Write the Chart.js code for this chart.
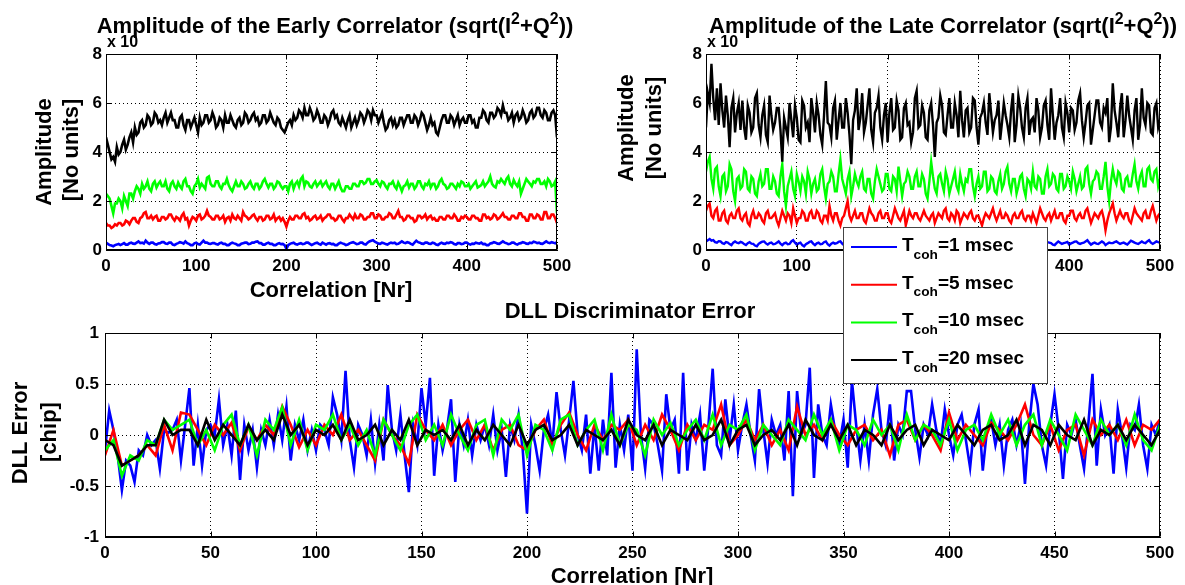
<!DOCTYPE html>
<html lang="en">
<head>
<meta charset="UTF-8" />
<title>Correlator amplitude and DLL error</title>
<script src="https://cdn.jsdelivr.net/npm/chart.js@4.4.1/dist/chart.umd.min.js"></script>
<style>
  html, body { margin: 0; padding: 0; background: #fff; }
  #wrap { position: relative; width: 1185px; height: 585px; overflow: hidden; }
  canvas { position: absolute; left: 0; top: 0; }
</style>
</head>
<body>
<div id="wrap">
  <canvas id="early" width="1185" height="585"></canvas>
  <canvas id="late" width="1185" height="585"></canvas>
  <canvas id="dll" width="1185" height="585"></canvas>
</div>
<script>
// T_coh values (msec) and MATLAB colours
const tcoh = ["1", "5", "10", "20"];
const colors = ["#0000ff", "#ff0000", "#00ff00", "#000000"];

// amplitude plots: one sample every 2 correlations, values in units of 1e4
const ampX = Array.from({ length: 251 }, (_, i) => i * 2);

const earlyBlue = [
  0.3, 0.25, 0.2, 0.18, 0.15, 0.2, 0.22, 0.25, 0.2, 0.24, 0.28, 0.22, 0.22, 0.28, 0.3, 0.26, 0.25, 0.3, 0.35, 0.28,
  0.3, 0.26, 0.38, 0.3, 0.25, 0.3, 0.3, 0.24, 0.22, 0.27, 0.28, 0.32, 0.32, 0.26, 0.25, 0.3, 0.3, 0.22, 0.2, 0.25,
  0.28, 0.32, 0.3, 0.26, 0.35, 0.28, 0.25, 0.2, 0.2, 0.27, 0.3, 0.24, 0.22, 0.3, 0.38, 0.3, 0.3, 0.26, 0.25, 0.28,
  0.28, 0.24, 0.22, 0.28, 0.3, 0.25, 0.25, 0.2, 0.2, 0.26, 0.3, 0.27, 0.25, 0.2, 0.2, 0.26, 0.28, 0.3, 0.3, 0.24,
  0.25, 0.3, 0.3, 0.34, 0.35, 0.28, 0.28, 0.22, 0.22, 0.27, 0.3, 0.25, 0.25, 0.2, 0.2, 0.25, 0.28, 0.24, 0.25, 0.2,
  0.05, 0.2, 0.25, 0.28, 0.3, 0.24, 0.22, 0.26, 0.28, 0.24, 0.25, 0.3, 0.3, 0.25, 0.2, 0.24, 0.28, 0.3, 0.25, 0.22,
  0.3, 0.26, 0.22, 0.27, 0.28, 0.24, 0.25, 0.2, 0.2, 0.26, 0.3, 0.27, 0.25, 0.2, 0.22, 0.27, 0.3, 0.32, 0.28, 0.24,
  0.25, 0.3, 0.3, 0.24, 0.22, 0.3, 0.35, 0.38, 0.4, 0.34, 0.3, 0.26, 0.25, 0.3, 0.28, 0.24, 0.22, 0.27, 0.3, 0.28,
  0.3, 0.24, 0.25, 0.3, 0.35, 0.3, 0.28, 0.32, 0.3, 0.25, 0.22, 0.3, 0.38, 0.32, 0.3, 0.26, 0.25, 0.3, 0.3, 0.26,
  0.25, 0.3, 0.28, 0.22, 0.2, 0.26, 0.3, 0.26, 0.25, 0.3, 0.28, 0.32, 0.3, 0.24, 0.22, 0.28, 0.28, 0.24, 0.25, 0.3,
  0.3, 0.25, 0.22, 0.26, 0.25, 0.3, 0.28, 0.26, 0.3, 0.24, 0.25, 0.2, 0.2, 0.27, 0.28, 0.32, 0.3, 0.26, 0.25, 0.3,
  0.35, 0.3, 0.28, 0.24, 0.25, 0.3, 0.3, 0.25, 0.22, 0.27, 0.28, 0.32, 0.3, 0.26, 0.25, 0.3, 0.28, 0.34, 0.32, 0.28,
  0.3, 0.26, 0.25, 0.3, 0.35, 0.3, 0.28, 0.32, 0.3, 0.27, 0.32
];
const earlyRed = [
  1.1, 1.0, 1.0, 0.9, 0.95, 1.05, 1.0, 1.1, 1.1, 1.0, 1.05, 1.2, 1.15, 1.05, 1.2, 1.3, 1.3, 1.15, 1.1, 1.3,
  1.35, 1.5, 1.55, 1.3, 1.3, 1.4, 1.25, 1.35, 1.4, 1.2, 1.2, 1.35, 1.35, 1.25, 1.3, 1.45, 1.45, 1.3, 1.2, 1.35,
  1.3, 1.2, 1.4, 1.5, 1.25, 1.3, 1.0, 1.2, 1.35, 1.3, 1.2, 1.4, 1.45, 1.25, 1.3, 1.4, 1.6, 1.4, 1.35, 1.25,
  1.25, 1.4, 1.4, 1.25, 1.3, 1.4, 1.15, 1.3, 1.35, 1.2, 1.45, 1.3, 1.25, 1.4, 1.3, 1.2, 1.55, 1.4, 1.35, 1.25,
  1.3, 1.4, 1.45, 1.3, 1.2, 1.35, 1.35, 1.2, 1.25, 1.4, 1.4, 1.25, 1.3, 1.45, 1.2, 1.3, 1.35, 1.2, 1.3, 1.15,
  0.95, 1.2, 1.35, 1.25, 1.25, 1.4, 1.4, 1.3, 1.3, 1.45, 1.5, 1.3, 1.35, 1.2, 1.25, 1.35, 1.4, 1.25, 1.3, 1.4,
  1.2, 1.3, 1.35, 1.45, 1.45, 1.3, 1.3, 1.2, 1.25, 1.4, 1.4, 1.25, 1.15, 1.3, 1.3, 1.45, 1.35, 1.25, 1.45, 1.3,
  1.3, 1.45, 1.4, 1.25, 1.25, 1.35, 1.35, 1.5, 1.5, 1.3, 1.3, 1.45, 1.4, 1.25, 1.25, 1.35, 1.35, 1.5, 1.45, 1.3,
  1.3, 1.45, 1.6, 1.35, 1.35, 1.2, 1.25, 1.4, 1.4, 1.3, 1.3, 1.15, 1.2, 1.4, 1.4, 1.3, 1.35, 1.45, 1.25, 1.35,
  1.4, 1.25, 1.3, 1.2, 1.2, 1.35, 1.35, 1.25, 1.25, 1.4, 1.4, 1.3, 1.3, 1.45, 1.35, 1.2, 1.2, 1.35, 1.3, 1.4,
  1.35, 1.25, 1.25, 1.4, 1.4, 1.3, 1.3, 1.2, 1.2, 1.45, 1.45, 1.3, 1.35, 1.25, 1.3, 1.45, 1.4, 1.25, 1.3, 1.4,
  1.5, 1.35, 1.35, 1.25, 1.25, 1.4, 1.4, 1.3, 1.3, 1.5, 1.5, 1.35, 1.35, 1.2, 1.2, 1.45, 1.45, 1.3, 1.3, 1.45,
  1.4, 1.25, 1.25, 1.55, 1.55, 1.3, 1.3, 1.45, 1.45, 1.3, 1.1
];
const earlyGreen = [
  2.3, 2.2, 2.1, 1.8, 1.5, 1.9, 1.9, 2.1, 2.0, 1.7, 2.2, 2.0, 1.8, 2.3, 2.3, 2.1, 2.4, 2.6, 2.5, 2.3,
  2.7, 2.5, 2.6, 2.8, 2.5, 2.4, 2.7, 2.8, 2.55, 2.7, 2.8, 2.6, 2.6, 2.8, 2.5, 2.4, 2.7, 2.8, 2.6, 2.5,
  2.75, 2.6, 2.5, 2.8, 2.9, 2.6, 2.6, 2.4, 2.3, 2.6, 2.7, 2.9, 2.55, 2.7, 2.6, 2.5, 2.95, 3.0, 2.7, 2.6,
  2.6, 2.8, 2.8, 2.6, 2.5, 2.7, 2.7, 2.9, 2.65, 2.5, 2.4, 2.6, 2.8, 2.6, 2.6, 2.8, 2.7, 2.5, 2.55, 2.7,
  2.8, 2.6, 2.5, 2.7, 2.7, 2.5, 2.6, 2.8, 2.9, 2.7, 2.55, 2.7, 2.7, 2.5, 2.6, 2.8, 2.75, 2.6, 2.5, 2.6,
  2.6, 2.4, 2.7, 2.8, 2.5, 2.7, 2.8, 2.6, 2.9, 3.0, 2.6, 2.8, 2.75, 2.6, 2.55, 2.7, 2.8, 2.6, 2.7, 2.8,
  2.6, 2.7, 2.8, 2.6, 2.5, 2.7, 2.7, 2.5, 2.65, 2.8, 2.55, 2.4, 2.4, 2.6, 2.6, 2.5, 2.5, 2.7, 2.7, 2.6,
  2.6, 2.8, 2.8, 2.7, 2.75, 2.9, 2.9, 2.7, 2.7, 2.8, 2.85, 2.7, 2.6, 2.8, 2.75, 2.6, 2.5, 2.7, 2.7, 2.8,
  2.6, 2.5, 2.75, 2.6, 2.4, 2.6, 2.65, 2.8, 2.55, 2.7, 2.7, 2.5, 2.6, 2.8, 2.8, 2.6, 2.5, 2.7, 2.65, 2.8,
  2.55, 2.7, 2.7, 2.5, 2.6, 2.8, 2.9, 2.7, 2.65, 2.5, 2.55, 2.7, 2.7, 2.6, 2.5, 2.7, 2.6, 2.8, 2.75, 2.6,
  2.6, 2.7, 2.5, 2.6, 2.7, 2.8, 2.55, 2.6, 2.65, 2.8, 2.6, 2.7, 2.8, 3.0, 2.7, 2.6, 2.55, 2.8, 2.75, 2.9,
  2.8, 2.7, 2.9, 3.0, 2.7, 2.6, 2.85, 2.7, 2.6, 2.8, 2.3, 2.5, 2.7, 2.9, 2.8, 2.7, 2.6, 2.8, 2.75, 2.9,
  2.9, 2.7, 2.7, 2.8, 2.6, 2.9, 2.8, 2.6, 2.65, 2.8, 1.5
];
const earlyBlack = [
  4.6, 4.3, 4.0, 3.7, 3.8, 3.6, 4.2, 3.9, 4.0, 4.3, 4.5, 4.1, 4.3, 4.6, 4.8, 4.4, 5.0, 4.7, 4.8, 5.2,
  5.3, 5.0, 5.1, 5.5, 5.4, 5.1, 5.2, 5.6, 5.5, 5.2, 5.3, 5.1, 5.4, 5.6, 5.2, 5.4, 5.6, 5.3, 5.3, 5.0,
  5.0, 5.4, 5.5, 5.1, 4.9, 5.3, 5.3, 5.0, 5.2, 5.4, 5.1, 4.8, 5.4, 5.1, 5.2, 5.5, 5.5, 5.2, 5.3, 5.6,
  5.4, 5.0, 5.1, 5.4, 5.3, 5.0, 5.5, 5.2, 5.2, 5.5, 5.3, 5.1, 5.0, 5.3, 5.4, 5.1, 5.2, 5.6, 5.5, 5.2,
  5.3, 5.5, 5.6, 5.3, 5.4, 5.1, 5.2, 5.5, 5.5, 5.2, 5.3, 5.6, 5.4, 5.2, 5.1, 5.4, 5.3, 5.0, 4.9, 4.8,
  5.0, 5.2, 5.3, 5.1, 5.5, 5.3, 5.4, 5.7, 5.6, 5.4, 5.8, 5.5, 5.5, 5.8, 5.6, 5.3, 5.4, 5.7, 5.5, 5.2,
  5.2, 5.5, 5.4, 5.1, 5.3, 5.6, 5.7, 5.4, 5.5, 5.2, 5.1, 5.4, 5.2, 5.0, 5.3, 5.5, 5.0, 5.2, 5.4, 5.1,
  5.3, 5.6, 5.5, 5.2, 5.4, 5.7, 5.6, 5.3, 5.7, 5.5, 5.5, 5.2, 5.4, 5.6, 5.2, 4.9, 5.0, 5.3, 5.4, 5.1,
  5.3, 5.0, 5.1, 5.4, 5.4, 5.1, 5.3, 5.5, 5.5, 5.2, 5.2, 5.5, 5.4, 5.1, 5.3, 5.6, 5.5, 5.2, 4.9, 5.1,
  5.4, 5.1, 5.2, 4.8, 4.7, 5.0, 5.3, 5.5, 5.5, 5.2, 5.2, 5.5, 5.4, 5.1, 5.3, 5.5, 5.1, 5.3, 5.4, 5.2,
  5.2, 5.5, 5.5, 5.2, 5.3, 5.0, 5.0, 5.4, 5.4, 5.7, 5.6, 5.3, 5.2, 5.6, 5.6, 5.4, 5.5, 5.8, 5.7, 5.5,
  5.9, 5.6, 5.6, 5.3, 5.4, 5.6, 5.2, 5.5, 5.6, 5.3, 5.4, 5.7, 5.5, 5.2, 5.3, 5.6, 5.7, 5.4, 5.5, 5.8,
  5.8, 5.5, 5.4, 5.7, 5.6, 5.3, 5.3, 5.6, 5.7, 5.5, 4.6
];

const lateBlue = [
  0.35, 0.4, 0.45, 0.38, 0.4, 0.32, 0.3, 0.36, 0.35, 0.28, 0.25, 0.32, 0.3, 0.24, 0.2, 0.3, 0.35, 0.3, 0.28, 0.33,
  0.3, 0.24, 0.2, 0.28, 0.32, 0.26, 0.25, 0.18, 0.15, 0.25, 0.3, 0.34, 0.35, 0.27, 0.22, 0.28, 0.3, 0.24, 0.25, 0.3,
  0.35, 0.26, 0.2, 0.27, 0.3, 0.24, 0.25, 0.35, 0.4, 0.3, 0.22, 0.27, 0.3, 0.2, 0.15, 0.24, 0.28, 0.33, 0.35, 0.26,
  0.2, 0.27, 0.3, 0.24, 0.25, 0.32, 0.35, 0.24, 0.18, 0.26, 0.3, 0.26, 0.28, 0.33, 0.35, 0.26, 0.2, 0.26, 0.3, 0.27,
  0.25, 0.32, 0.35, 0.3, 0.3, 0.23, 0.2, 0.27, 0.3, 0.26, 0.25, 0.35, 0.4, 0.3, 0.22, 0.27, 0.3, 0.26, 0.25, 0.3,
  0.3, 0.24, 0.2, 0.3, 0.35, 0.3, 0.28, 0.3, 0.3, 0.22, 0.18, 0.26, 0.32, 0.27, 0.25, 0.3, 0.3, 0.33, 0.35, 0.28,
  0.25, 0.3, 0.3, 0.24, 0.2, 0.3, 0.35, 0.3, 0.28, 0.3, 0.3, 0.24, 0.22, 0.3, 0.35, 0.28, 0.25, 0.3, 0.3, 0.24,
  0.2, 0.28, 0.32, 0.27, 0.25, 0.3, 0.3, 0.33, 0.35, 0.26, 0.2, 0.26, 0.3, 0.3, 0.28, 0.24, 0.22, 0.3, 0.35, 0.32,
  0.3, 0.26, 0.25, 0.32, 0.35, 0.26, 0.2, 0.27, 0.3, 0.3, 0.28, 0.32, 0.32, 0.26, 0.22, 0.27, 0.3, 0.26, 0.25, 0.3,
  0.35, 0.26, 0.2, 0.26, 0.3, 0.27, 0.25, 0.3, 0.32, 0.3, 0.28, 0.22, 0.2, 0.28, 0.35, 0.3, 0.25, 0.28, 0.3, 0.33,
  0.22, 0.27, 0.3, 0.34, 0.35, 0.28, 0.25, 0.28, 0.3, 0.35, 0.4, 0.3, 0.22, 0.27, 0.3, 0.26, 0.25, 0.3, 0.35, 0.3,
  0.2, 0.26, 0.3, 0.28, 0.28, 0.32, 0.35, 0.3, 0.25, 0.28, 0.3, 0.26, 0.22, 0.3, 0.38, 0.34, 0.3, 0.27, 0.25, 0.3,
  0.35, 0.3, 0.28, 0.35, 0.4, 0.3, 0.25, 0.3, 0.35, 0.32, 0.3
];
const lateRed = [
  1.6, 1.8, 1.9, 1.4, 1.3, 1.6, 1.7, 1.2, 1.2, 1.5, 1.6, 1.2, 1.1, 1.4, 1.5, 1.3, 1.3, 1.6, 1.7, 1.3,
  1.2, 1.4, 1.5, 1.1, 1.0, 1.4, 1.6, 1.3, 1.3, 1.5, 1.4, 1.2, 1.1, 1.5, 1.6, 1.3, 1.3, 1.4, 1.5, 1.2,
  1.0, 1.3, 1.6, 1.4, 1.2, 1.5, 1.4, 1.1, 1.7, 1.4, 1.1, 1.3, 1.3, 1.6, 1.5, 1.2, 1.2, 1.5, 1.6, 1.3,
  1.3, 1.6, 1.5, 1.2, 1.1, 1.4, 1.4, 1.2, 1.8, 1.4, 1.2, 1.5, 1.5, 1.2, 1.0, 1.3, 1.4, 1.7, 2.0, 1.4,
  1.2, 1.4, 1.6, 1.3, 1.3, 1.5, 1.5, 1.2, 1.1, 1.4, 1.7, 1.5, 1.4, 1.2, 1.2, 1.5, 1.6, 1.3, 1.3, 1.5,
  1.5, 1.2, 1.1, 1.4, 1.7, 1.5, 1.3, 1.2, 1.4, 1.6, 1.0, 1.3, 1.6, 1.4, 1.3, 1.5, 1.5, 1.3, 1.2, 1.4,
  1.6, 1.4, 1.3, 1.2, 1.4, 1.5, 1.1, 1.3, 1.5, 1.4, 1.3, 1.6, 1.7, 1.3, 1.2, 1.5, 1.4, 1.2, 1.6, 1.5,
  1.1, 1.3, 1.5, 1.4, 1.3, 1.5, 1.6, 1.3, 1.2, 1.4, 1.4, 1.2, 1.0, 1.3, 1.5, 1.4, 1.3, 1.5, 1.7, 1.4,
  1.2, 1.4, 1.6, 1.3, 1.3, 1.5, 1.4, 1.2, 1.1, 1.4, 1.5, 1.3, 1.3, 1.5, 1.6, 1.3, 1.2, 1.4, 1.4, 1.2,
  1.5, 1.3, 1.1, 1.4, 1.7, 1.5, 1.3, 1.2, 1.4, 1.5, 1.2, 1.4, 1.6, 1.3, 1.3, 1.5, 1.5, 1.2, 1.1, 1.4,
  1.4, 1.6, 1.6, 1.3, 1.2, 1.4, 1.5, 1.3, 1.3, 1.6, 1.7, 1.4, 1.1, 1.3, 1.5, 1.4, 1.3, 1.5, 1.6, 1.3,
  0.8, 1.2, 1.5, 1.7, 1.9, 1.5, 1.2, 1.4, 1.6, 1.4, 1.3, 1.5, 1.5, 1.2, 1.1, 1.4, 1.7, 1.5, 1.4, 1.3,
  1.2, 1.5, 1.6, 1.3, 1.3, 1.6, 1.8, 1.5, 1.2, 1.4, 1.5
];
const lateGreen = [
  3.2, 3.6, 3.8, 2.9, 2.5, 3.3, 3.4, 2.6, 2.2, 3.0, 3.1, 2.4, 2.6, 3.5, 3.3, 2.4, 2.0, 2.9, 3.0, 2.5,
  2.6, 3.3, 3.2, 2.5, 2.4, 3.0, 2.9, 2.3, 2.2, 2.8, 3.1, 2.6, 2.7, 3.3, 3.3, 2.5, 2.5, 3.0, 2.8, 2.3,
  2.2, 3.0, 3.5, 2.4, 1.8, 2.6, 2.9, 3.2, 2.5, 2.2, 3.1, 2.8, 2.4, 3.0, 2.8, 2.3, 3.2, 2.9, 2.3, 2.7,
  2.9, 2.4, 2.5, 3.1, 3.3, 2.6, 2.1, 2.7, 2.8, 3.2, 3.0, 2.4, 2.4, 3.1, 3.7, 2.9, 2.6, 2.3, 2.9, 3.2,
  2.2, 2.6, 3.1, 2.8, 2.6, 3.0, 3.2, 2.5, 2.4, 2.9, 2.9, 2.3, 2.1, 2.8, 3.3, 3.0, 2.7, 2.4, 2.5, 3.1,
  3.1, 2.5, 2.4, 3.0, 2.9, 2.4, 3.4, 2.8, 2.2, 2.7, 2.8, 3.2, 3.0, 2.5, 2.5, 3.0, 3.2, 2.6, 2.6, 3.1,
  2.9, 2.3, 2.1, 2.8, 3.6, 3.0, 2.5, 2.3, 3.0, 3.1, 2.7, 2.4, 3.2, 2.9, 2.3, 2.6, 2.9, 3.2, 2.6, 2.4,
  3.1, 2.7, 2.4, 2.9, 2.8, 3.3, 3.3, 2.6, 2.2, 2.7, 3.0, 2.5, 2.6, 3.2, 3.2, 2.4, 2.5, 3.0, 2.9, 2.4,
  2.3, 2.8, 3.1, 2.5, 2.7, 3.2, 3.4, 2.7, 2.4, 2.9, 2.9, 2.3, 2.6, 3.0, 3.1, 2.5, 2.2, 2.9, 2.8, 2.5,
  3.2, 2.6, 2.5, 3.0, 2.9, 2.3, 2.3, 3.0, 3.3, 2.6, 2.7, 3.1, 3.0, 2.5, 2.4, 3.1, 3.1, 2.5, 2.6, 3.0,
  2.8, 2.5, 3.2, 2.9, 2.4, 2.7, 3.0, 2.5, 2.6, 3.3, 3.4, 2.7, 2.3, 2.8, 2.9, 3.2, 3.1, 2.5, 2.5, 3.0,
  3.6, 2.6, 2.0, 2.8, 3.3, 2.9, 2.7, 3.2, 3.1, 2.5, 2.4, 2.9, 3.0, 2.6, 2.6, 3.1, 3.5, 2.8, 2.5, 3.0,
  3.2, 2.6, 2.6, 3.3, 3.4, 2.9, 2.8, 3.2, 3.3, 2.6, 2.9
];
const lateBlack = [
  5.0, 6.4, 6.0, 7.6, 6.2, 5.3, 6.6, 5.1, 6.8, 5.7, 5.0, 6.3, 5.5, 4.2, 5.8, 6.2, 4.8, 5.6, 6.0, 4.9,
  6.1, 5.0, 4.5, 5.9, 5.6, 4.8, 5.0, 6.2, 6.4, 5.1, 4.6, 5.5, 5.9, 4.7, 4.4, 6.3, 5.5, 4.9, 5.2, 5.8,
  5.8, 4.9, 3.6, 5.4, 5.0, 4.6, 6.0, 5.3, 4.6, 5.9, 5.4, 4.5, 4.4, 6.1, 5.9, 5.0, 5.2, 4.4, 6.2, 5.6,
  4.8, 6.0, 5.5, 4.7, 4.3, 5.5, 6.9, 5.2, 5.1, 4.6, 5.8, 6.1, 4.5, 5.3, 6.0, 5.0, 5.0, 6.2, 5.6, 4.7,
  3.5, 5.3, 5.7, 6.6, 4.9, 5.4, 6.4, 4.8, 5.2, 5.9, 6.6, 4.9, 4.4, 5.6, 5.8, 6.3, 5.0, 4.5, 5.5, 6.0,
  4.4, 5.6, 6.2, 4.9, 5.0, 6.1, 5.7, 4.5, 4.6, 5.8, 6.0, 5.1, 5.2, 4.4, 4.8, 6.2, 6.5, 5.0, 5.1, 5.9,
  5.6, 4.6, 4.5, 5.7, 6.0, 5.1, 3.8, 5.2, 5.4, 6.3, 5.9, 4.8, 4.7, 5.5, 6.2, 5.0, 5.0, 6.0, 5.5, 4.6,
  6.5, 5.3, 4.6, 5.7, 5.8, 4.8, 5.0, 6.2, 6.1, 5.0, 4.3, 5.4, 5.6, 6.0, 5.2, 4.7, 6.4, 5.6, 4.8, 5.3,
  5.5, 6.1, 4.5, 5.2, 6.0, 5.5, 5.1, 4.6, 5.7, 6.4, 4.4, 5.1, 6.3, 5.8, 5.0, 4.6, 5.8, 6.2, 4.7, 5.3,
  5.4, 4.8, 6.2, 5.7, 4.6, 5.0, 5.9, 6.1, 5.1, 4.5, 6.6, 5.5, 4.5, 5.2, 5.5, 6.2, 5.0, 4.6, 6.0, 5.6,
  4.8, 5.8, 5.7, 4.9, 5.2, 6.1, 6.4, 5.3, 4.6, 5.2, 5.9, 6.0, 4.3, 4.9, 5.5, 6.1, 6.1, 5.2, 5.0, 5.8,
  5.6, 6.2, 4.4, 5.0, 6.8, 5.7, 5.2, 4.6, 5.8, 6.4, 4.6, 5.3, 6.3, 5.5, 5.0, 4.5, 5.7, 6.2, 4.5, 5.1,
  6.6, 5.4, 5.1, 6.0, 5.9, 4.8, 4.7, 5.8, 6.0, 5.0, 5.3
];

// DLL error [chip]: blue every 2 correlations, the others every 4
const dllBlueX = Array.from({ length: 251 }, (_, i) => i * 2);
const dllX = Array.from({ length: 126 }, (_, i) => i * 4);

const dllBlue = [
  -0.15, 0.24, 0.05, -0.2, -0.54, -0.25, -0.3, -0.46, -0.15, -0.2,
  0.0, -0.1, -0.05, -0.33, 0.05, 0.02, 0.05, 0.15, -0.25, 0.1,
  0.46, -0.3, 0.1, -0.3, 0.05, 0.1, 0.0, 0.35, -0.1, 0.1,
  -0.2, 0.24, -0.44, 0.1, -0.15, 0.05, -0.32, 0.05, -0.1, 0.15,
  -0.1, 0.2, -0.05, 0.28, -0.25, 0.1, -0.05, 0.15, -0.15, 0.05,
  -0.15, 0.1, 0.05, -0.1, 0.37, 0.2, -0.05, 0.63, -0.05, -0.32,
  0.1, 0.0, -0.2, 0.15, -0.28, 0.1, -0.25, 0.49, 0.05, -0.15,
  0.2, -0.2, -0.56, 0.1, -0.1, 0.46, 0.1, 0.56, -0.4, 0.1,
  -0.15, 0.05, 0.35, -0.46, 0.1, -0.1, 0.15, -0.2, 0.1, -0.05,
  0.1, -0.1, 0.2, -0.15, 0.05, -0.41, 0.1, -0.05, 0.2, -0.15,
  -0.77, 0.1, -0.1, -0.35, 0.05, 0.2, -0.1, 0.42, 0.05, -0.2,
  0.15, 0.53, 0.0, -0.15, 0.2, -0.38, 0.1, -0.35, 0.15, -0.2,
  0.61, -0.32, 0.1, -0.15, 0.2, -0.35, 0.84, 0.0, -0.33, 0.15,
  0.1, -0.1, -0.35, 0.4, 0.05, 0.15, -0.38, 0.61, -0.35, 0.1,
  -0.05, 0.2, -0.35, 0.1, 0.65, -0.1, -0.2, 0.35, -0.05, 0.3,
  -0.15, 0.1, 0.3, 0.0, -0.25, 0.45, 0.05, -0.28, 0.15, 0.0,
  0.1, -0.25, 0.43, -0.6, 0.43, 0.0, 0.1, 0.66, -0.42, 0.3,
  0.0, -0.1, 0.3, 0.05, -0.1, 0.15, -0.32, 0.53, 0.1, -0.25,
  0.1, -0.25, 0.2, 0.45, 0.05, -0.1, 0.3, -0.25, 0.1, 0.0,
  0.43, 0.43, 0.05, -0.22, 0.1, 0.0, 0.3, 0.05, -0.1, 0.25,
  0.0, -0.2, 0.1, 0.2, -0.05, -0.32, 0.1, 0.25, -0.35, 0.05,
  0.15, -0.1, 0.1, -0.3, 0.05, 0.15, -0.1, 0.1, -0.48, 0.1,
  0.5, 0.3, -0.1, -0.3, 0.1, 0.4, 0.05, -0.43, 0.1, 0.0,
  0.15, -0.1, -0.33, 0.1, 0.6, -0.3, 0.25, 0.0, 0.1, -0.38,
  0.25, 0.0, -0.32, 0.1, 0.05, 0.3, -0.1, -0.33, 0.1, 0.0,
  0.15
];
const dllRed = [
  -0.2, 0.05, -0.3, -0.25, -0.2, -0.1, -0.2, 0.1, -0.15, 0.22,
  0.2, 0.05, -0.1, 0.1, 0.0, 0.12, -0.15, 0.08, -0.05, 0.1,
  0.0, 0.28, 0.1, -0.12, 0.05, -0.1, 0.1, 0.0, 0.2, -0.05,
  0.05, -0.1, -0.25, 0.15, 0.0, -0.1, -0.28, 0.2, 0.05, -0.05,
  0.1, -0.1, 0.05, 0.15, -0.05, 0.1, -0.15, 0.05, 0.1, -0.1,
  -0.15, 0.05, 0.15, -0.1, 0.1, 0.22, 0.0, -0.15, 0.1, -0.05,
  0.1, 0.05, 0.15, -0.1, 0.1, -0.05, 0.2, 0.05, -0.15, 0.1,
  -0.05, 0.1, 0.05, 0.3, -0.1, 0.0, 0.15, -0.05, 0.1, -0.1,
  0.05, -0.15, 0.28, 0.0, 0.1, -0.05, 0.15, 0.0, -0.1, 0.05,
  0.1, -0.05, 0.05, -0.2, 0.1, 0.15, -0.05, 0.1, 0.0, -0.15,
  0.22, -0.05, 0.1, 0.0, -0.1, 0.12, 0.05, -0.05, 0.1, 0.3,
  0.0, -0.1, 0.1, -0.15, 0.05, 0.1, -0.2, 0.15, 0.0, 0.1,
  -0.05, 0.15, -0.1, 0.1, 0.05, 0.15
];
const dllGreen = [
  -0.15, -0.05, -0.4, -0.2, -0.25, -0.05, -0.1, 0.15, 0.05, 0.1,
  0.15, -0.1, 0.05, -0.15, 0.1, 0.2, -0.1, 0.1, -0.2, 0.15,
  0.05, 0.27, -0.1, 0.15, -0.15, 0.1, 0.05, 0.2, -0.05, 0.1,
  -0.1, 0.05, -0.2, 0.15, 0.0, -0.15, 0.1, 0.2, -0.05, 0.1,
  -0.1, 0.2, 0.0, -0.15, 0.1, 0.15, -0.2, 0.15, 0.05, 0.2,
  -0.2, 0.1, 0.05, -0.15, 0.15, 0.2, -0.1, 0.05, 0.15, -0.15,
  0.2, -0.1, 0.1, 0.05, -0.2, 0.15, 0.0, 0.12, -0.1, 0.05,
  0.15, -0.05, 0.2, -0.1, 0.1, 0.05, 0.2, -0.15, 0.1, 0.0,
  -0.1, 0.15, 0.05, -0.05, 0.2, 0.0, 0.15, -0.15, 0.1, 0.05,
  -0.1, 0.15, 0.0, 0.1, -0.15, 0.2, -0.05, 0.1, 0.05, -0.1,
  0.15, -0.15, 0.05, 0.1, -0.05, 0.2, 0.0, 0.15, -0.1, 0.1,
  0.2, -0.1, 0.15, 0.0, -0.15, 0.2, 0.05, -0.1, 0.15, 0.0,
  0.1, -0.1, 0.2, -0.05, -0.15, 0.1
];
const dllBlack = [
  -0.05, -0.1, -0.3, -0.25, -0.2, -0.1, -0.1, 0.15, 0.0, 0.05,
  0.05, -0.1, 0.15, -0.05, 0.1, 0.0, -0.1, 0.1, -0.05, 0.05,
  -0.05, 0.2, 0.0, 0.1, -0.1, 0.05, 0.0, 0.1, -0.05, 0.15,
  -0.05, 0.0, 0.1, -0.1, 0.05, -0.05, 0.15, -0.1, 0.05, 0.0,
  0.05, -0.05, 0.1, -0.1, 0.05, -0.05, 0.1, 0.0, -0.1, 0.1,
  -0.1, 0.05, 0.1, -0.05, 0.0, 0.1, -0.1, 0.05, 0.0, -0.05,
  0.05, -0.1, 0.15, 0.0, -0.05, 0.1, -0.1, 0.05, 0.0, -0.05,
  0.1, -0.05, 0.0, 0.15, -0.1, 0.05, 0.1, -0.1, 0.0, 0.05,
  -0.05, 0.1, -0.1, 0.15, 0.0, -0.05, 0.1, -0.05, 0.1, -0.1,
  0.05, 0.0, -0.1, 0.1, -0.05, 0.05, 0.1, -0.1, 0.05, 0.0,
  -0.05, 0.1, 0.0, -0.1, 0.05, 0.1, -0.05, 0.0, 0.15, -0.1,
  0.1, 0.05, -0.1, 0.1, 0.0, -0.05, 0.15, -0.1, 0.05, 0.0,
  0.1, -0.05, 0.1, 0.0, -0.1, 0.05
];

const FONT = "'Liberation Sans', Arial, Helvetica, sans-serif";

function pts(xs, ys) {
  return ys.map((y, i) => ({ x: xs[i], y: y }));
}

// text made of normal, superscript and subscript pieces
function drawRich(ctx, parts, x, y, size, align) {
  const items = parts.map(p => typeof p === "string" ? { t: p } : p);
  let total = 0;
  items.forEach(p => {
    p.size = p.sup || p.sub ? size * 0.72 : size;
    ctx.font = "bold " + p.size + "px " + FONT;
    p.w = ctx.measureText(p.t).width;
    total += p.w;
  });
  let cx = align === "center" ? x - total / 2 : x;
  ctx.textAlign = "left";
  ctx.textBaseline = "alphabetic";
  items.forEach(p => {
    ctx.font = "bold " + p.size + "px " + FONT;
    let dy = 0;
    if (p.sup) dy = -size * 0.42;
    if (p.sub) dy = size * 0.4;
    ctx.fillText(p.t, cx, y + dy);
    cx += p.w;
  });
}

// titles and axis labels, positions in page pixels
function textPlugin(texts) {
  return {
    id: "texts",
    afterDraw(chart) {
      const ctx = chart.ctx;
      ctx.save();
      ctx.fillStyle = "#000";
      texts.forEach(t => {
        if (t.rot) {
          ctx.save();
          ctx.translate(t.x, t.y);
          ctx.rotate(-Math.PI / 2);
          drawRich(ctx, t.parts, 0, 0, t.size, "center");
          ctx.restore();
        } else {
          drawRich(ctx, t.parts, t.x, t.y, t.size, t.align || "center");
        }
      });
      ctx.restore();
    }
  };
}

// MATLAB style box with inward tick marks
const framePlugin = {
  id: "frame",
  afterDraw(chart) {
    const { ctx, chartArea: a, scales } = chart;
    const L = Math.round(a.left) + 0.5, R = Math.round(a.right) - 0.5;
    const T = Math.round(a.top) + 0.5, B = Math.round(a.bottom) - 0.5;
    ctx.save();
    ctx.strokeStyle = "#000";
    ctx.lineWidth = 1;
    ctx.beginPath();
    scales.x.ticks.forEach(t => {
      const px = Math.round(scales.x.getPixelForValue(t.value)) + 0.5;
      ctx.moveTo(px, B); ctx.lineTo(px, B - 5);
      ctx.moveTo(px, T); ctx.lineTo(px, T + 5);
    });
    scales.y.ticks.forEach(t => {
      const py = Math.round(scales.y.getPixelForValue(t.value)) + 0.5;
      ctx.moveTo(L, py); ctx.lineTo(L + 5, py);
      ctx.moveTo(R, py); ctx.lineTo(R - 5, py);
    });
    ctx.stroke();
    ctx.strokeRect(L, T, R - L, B - T);
    ctx.restore();
  }
};

// legend box, drawn on the top canvas so it covers the late plot
const legendPlugin = {
  id: "tcohLegend",
  afterDraw(chart) {
    const ctx = chart.ctx;
    ctx.save();
    ctx.fillStyle = "#fff";
    ctx.fillRect(843, 227, 204, 156);
    ctx.strokeStyle = "#444";
    ctx.lineWidth = 1;
    ctx.strokeRect(843.5, 227.5, 204, 156);
    chart.data.datasets.forEach((ds, i) => {
      const y = 247 + i * 37.7;
      ctx.strokeStyle = ds.borderColor;
      ctx.lineWidth = 2;
      ctx.beginPath();
      ctx.moveTo(851, y);
      ctx.lineTo(897, y);
      ctx.stroke();
      ctx.fillStyle = "#000";
      drawRich(ctx, ["T", { t: "coh", sub: true }, "=" + tcoh[i] + " msec"], 902, y + 4, 19, "left");
    });
    ctx.restore();
  }
};

function makeDatasets(xsList, ysList, width) {
  return ysList.map((ys, i) => ({
    label: "Tcoh=" + tcoh[i] + " msec",
    data: pts(xsList[i], ys),
    borderColor: colors[i],
    backgroundColor: colors[i],
    borderWidth: width,
    pointRadius: 0,
    tension: 0,
    order: 4 - i
  }));
}

function axis(min, max, step, pad, fit) {
  return {
    type: "linear",
    min: min,
    max: max,
    afterFit: fit,
    ticks: {
      stepSize: step,
      padding: pad,
      autoSkip: false,
      maxRotation: 0,
      color: "#000",
      font: { family: FONT, size: 17, weight: "bold" },
      callback: v => String(v)
    },
    grid: { color: "#000", lineWidth: 1, drawTicks: false },
    border: { display: true, color: "#000", width: 1, dash: [1, 3] }
  };
}

function makeChart(id, datasets, box, texts, extra) {
  // box = [left, top, right, bottom] of the plot area in page pixels
  const [l, t, r, b] = box;
  return new Chart(document.getElementById(id), {
    type: "line",
    data: { datasets: datasets },
    options: {
      responsive: false,
      animation: false,
      events: [],
      layout: { padding: { left: 0, top: t, right: 1185 - r, bottom: 0 } },
      plugins: { legend: { display: false }, tooltip: { enabled: false } },
      scales: {
        x: axis(0, 500, extra.xStep, 6, s => { s.height = 585 - b; }),
        y: axis(extra.yMin, extra.yMax, extra.yStep, extra.yPad, s => { s.width = l; })
      }
    },
    plugins: [framePlugin, textPlugin(texts)].concat(extra.plugins || [])
  });
}

const ampXs = [ampX, ampX, ampX, ampX];

makeChart("early",
  makeDatasets(ampXs, [earlyBlue, earlyRed, earlyGreen, earlyBlack], 2.6),
  [106, 54, 557, 250],
  [
    { parts: ["Amplitude of the Early Correlator (sqrt(I", { t: "2", sup: true }, "+Q", { t: "2", sup: true }, "))"], x: 335, y: 33, size: 22 },
    { parts: ["x 10"], x: 107, y: 47, size: 16, align: "left" },
    { parts: ["Correlation [Nr]"], x: 331, y: 297, size: 22 },
    { parts: ["Amplitude"], x: 51, y: 152, size: 22, rot: true },
    { parts: ["[No units]"], x: 78, y: 150, size: 22, rot: true }
  ],
  { xStep: 100, yMin: 0, yMax: 8, yStep: 2, yPad: 4 });

makeChart("late",
  makeDatasets(ampXs, [lateBlue, lateRed, lateGreen, lateBlack], 2.4),
  [706, 54, 1160, 250],
  [
    { parts: ["Amplitude of the Late Correlator (sqrt(I", { t: "2", sup: true }, "+Q", { t: "2", sup: true }, "))"], x: 943, y: 33, size: 22 },
    { parts: ["x 10"], x: 707, y: 47, size: 16, align: "left" },
    { parts: ["Correlation [Nr]"], x: 933, y: 297, size: 22 },
    { parts: ["Amplitude"], x: 633, y: 128, size: 22, rot: true },
    { parts: ["[No units]"], x: 661, y: 128, size: 22, rot: true }
  ],
  { xStep: 100, yMin: 0, yMax: 8, yStep: 2, yPad: 4 });

makeChart("dll",
  makeDatasets([dllBlueX, dllX, dllX, dllX], [dllBlue, dllRed, dllGreen, dllBlack], 2.6),
  [105, 333, 1160, 537],
  [
    { parts: ["DLL Discriminator Error"], x: 630, y: 318, size: 22 },
    { parts: ["Correlation [Nr]"], x: 632, y: 583, size: 22 },
    { parts: ["DLL Error"], x: 27, y: 433, size: 22, rot: true },
    { parts: ["[chip]"], x: 56, y: 432, size: 22, rot: true }
  ],
  { xStep: 50, yMin: -1, yMax: 1, yStep: 0.5, yPad: 6, plugins: [legendPlugin] });
</script>
</body>
</html>
